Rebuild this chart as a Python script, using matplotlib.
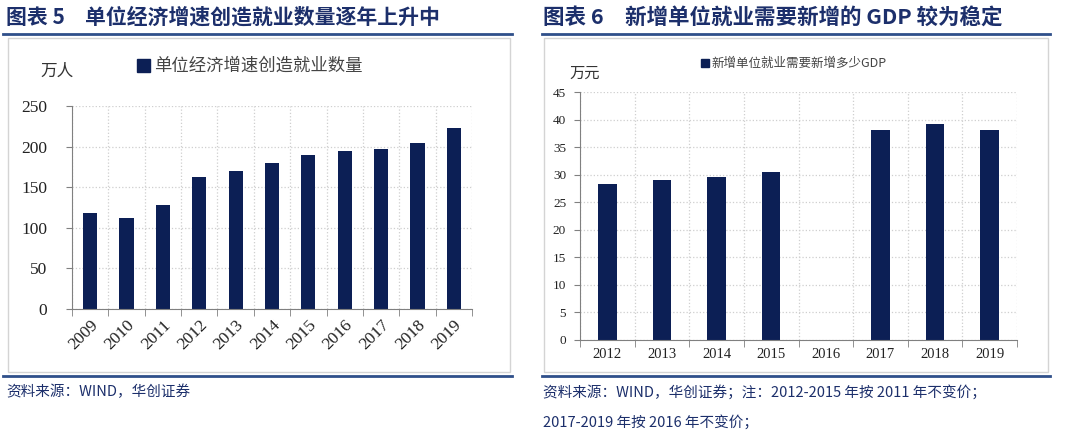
import matplotlib
matplotlib.use("Agg")
import matplotlib.pyplot as plt
import numpy as np
from matplotlib.lines import Line2D
from matplotlib.patches import Rectangle

plt.rcParams['font.family'] = ['Noto Sans CJK SC', 'DejaVu Sans']

# left chart data
years_l = ['2009', '2010', '2011', '2012', '2013', '2014', '2015', '2016', '2017', '2018', '2019']
jobs = [118.7, 112.5, 128.5, 162.4, 169.4, 179.6, 189.4, 194.8, 197.2, 204.6, 223.0]

# right chart data (2016 has no bar)
years_r = ['2012', '2013', '2014', '2015', '2016', '2017', '2018', '2019']
gdp_per_job = [28.3, 29.1, 29.7, 30.5, np.nan, 38.1, 39.3, 38.2]

W, H = 1080, 444
NAVY = '#0c1f55'
TITLE_C = '#1c2f6b'
LINE_C = '#2f4f8a'
NUM_FONT = ['Liberation Serif', 'DejaVu Serif']


def fx(px):
    return px / W


def fy(py):
    return 1 - py / H


fig = plt.figure(figsize=(W / 100, H / 100), dpi=100)

# frames, rules and titles
for x0, x1, bx0, bx1 in [(3, 512, 8, 510), (542, 1050, 544, 1048)]:
    fig.add_artist(Line2D([fx(x0), fx(x1)], [fy(34), fy(34)], color=LINE_C, lw=2))
    fig.add_artist(Line2D([fx(x0), fx(x1)], [fy(376), fy(376)], color=LINE_C, lw=2))
    fig.add_artist(Rectangle((fx(bx0), fy(372)), fx(bx1 - bx0), (372 - 38) / H,
                             fill=False, edgecolor='#d4d4d4', lw=1))

fig.text(fx(6), fy(17), '图表 5', fontsize=15, fontweight='bold', color=TITLE_C, va='center')
fig.text(fx(85), fy(17), '单位经济增速创造就业数量逐年上升中', fontsize=15,
         fontweight='bold', color=TITLE_C, va='center')
fig.text(fx(543), fy(17), '图表 6', fontsize=15.5, fontweight='bold', color=TITLE_C, va='center')
fig.text(fx(625), fy(17), '新增单位就业需要新增的 GDP 较为稳定', fontsize=15.5,
         fontweight='bold', color=TITLE_C, va='center')

fig.text(fx(6), fy(392), '资料来源：WIND，华创证券', fontsize=10.5, color=TITLE_C,
         va='center', style='italic')
fig.text(fx(543), fy(392), '资料来源：WIND，华创证券；注：2012-2015 年按 2011 年不变价；',
         fontsize=10.5, color=TITLE_C, va='center', style='italic')
fig.text(fx(543), fy(422), '2017-2019 年按 2016 年不变价；', fontsize=10.5, color=TITLE_C,
         va='center', style='italic')


def style_axes(ax, n, ylim, ystep, ysize, xsize, xrot):
    ax.set_xlim(-0.5, n - 0.5)
    ax.set_ylim(0, ylim)
    ax.set_yticks(np.arange(0, ylim + 0.1, ystep))
    ax.set_xticks(np.arange(n))
    ax.set_xticks(np.arange(n + 1) - 0.5, minor=True)
    ax.tick_params(axis='x', which='major', length=0, pad=6)
    ax.tick_params(axis='x', which='minor', length=5, color='#808080', direction='out')
    ax.tick_params(axis='y', length=4, color='#808080', direction='out')
    for s in ['top', 'right']:
        ax.spines[s].set_visible(False)
    for s in ['left', 'bottom']:
        ax.spines[s].set_color('#808080')
    ax.grid(True, axis='y', linestyle=':', color='#cfcfcf', lw=0.9)
    ax.grid(True, axis='x', which='minor', linestyle=':', color='#cfcfcf', lw=0.9)
    ax.set_axisbelow(True)
    for lab in ax.get_yticklabels():
        lab.set_fontfamily(NUM_FONT)
        lab.set_fontsize(ysize)
        lab.set_color('#222222')
    for lab in ax.get_xticklabels():
        lab.set_fontfamily(NUM_FONT)
        lab.set_fontsize(xsize)
        lab.set_color('#222222')
        lab.set_rotation(xrot)


# left chart
ax1 = fig.add_axes([fx(72), fy(309), fx(400), 203 / H])
x1 = np.arange(len(years_l))
ax1.bar(x1, jobs, width=0.39, color=NAVY)
ax1.set_xticklabels(years_l)
style_axes(ax1, len(years_l), 250, 50, 12.5, 12.5, 45)
ax1.tick_params(axis='y', pad=14)
for lab in ax1.get_xticklabels():
    lab.set_ha('right')
    lab.set_rotation_mode('anchor')
fig.text(fx(57), fy(71), '万人', fontsize=12, color='#333333', ha='center', va='center')
fig.add_artist(Rectangle((fx(137), fy(72)), fx(13), 13 / H, color=NAVY))
fig.text(fx(154), fy(66), '单位经济增速创造就业数量', fontsize=12.5, color='#444444', va='center')

# right chart
ax2 = fig.add_axes([fx(580), fy(340), fx(437), (340 - 92.3) / H])
x2 = np.arange(len(years_r))
ax2.bar(x2, gdp_per_job, width=0.34, color=NAVY)
ax2.set_xticklabels(years_r)
style_axes(ax2, len(years_r), 45, 5, 9.5, 10.5, 0)
ax2.tick_params(axis='y', pad=6)
fig.text(fx(585), fy(73), '万元', fontsize=11, color='#333333', ha='center', va='center')
fig.add_artist(Rectangle((fx(701), fy(67)), fx(8), 8 / H, color=NAVY))
fig.text(fx(711), fy(63), '新增单位就业需要新增多少GDP', fontsize=9, color='#444444', va='center')

fig.savefig('out.png', dpi=100)
